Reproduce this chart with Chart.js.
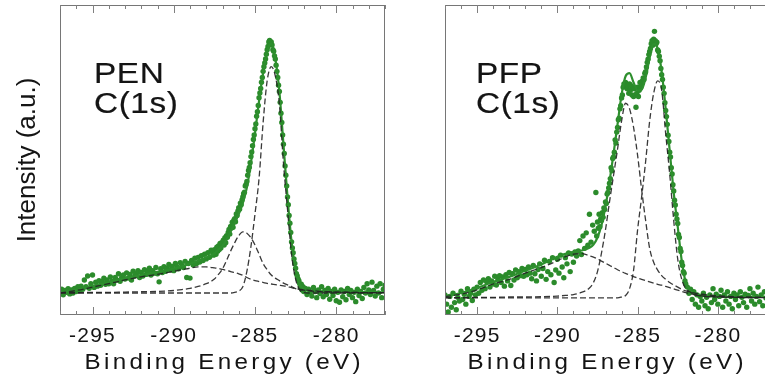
<!DOCTYPE html>
<html><head><meta charset="utf-8">
<script src="https://cdn.jsdelivr.net/npm/chart.js@4.4.1/dist/chart.umd.min.js"></script>
<style>
html,body{margin:0;padding:0;background:#fff;overflow:hidden;width:765px;height:389px;}
#wrap{position:relative;width:765px;height:389px;overflow:hidden;background:#fff;}
canvas{position:absolute;top:0;}
#c1{left:0;}
#c2{left:385px;}
</style></head><body>
<div id="wrap"><canvas id="c1" width="400" height="389"></canvas><canvas id="c2" width="390" height="389"></canvas></div>
<script>
// ---------- data ----------
const energy = [
-297,-296.9,-296.8,-296.7,-296.6,-296.5,-296.4,-296.3,-296.2,-296.1,
-296,-295.9,-295.8,-295.7,-295.6,-295.5,-295.4,-295.3,-295.2,-295.1,
-295,-294.9,-294.8,-294.7,-294.6,-294.5,-294.4,-294.3,-294.2,-294.1,
-294,-293.9,-293.8,-293.7,-293.6,-293.5,-293.4,-293.3,-293.2,-293.1,
-293,-292.9,-292.8,-292.7,-292.6,-292.5,-292.4,-292.3,-292.2,-292.1,
-292,-291.9,-291.8,-291.7,-291.6,-291.5,-291.4,-291.3,-291.2,-291.1,
-291,-290.9,-290.8,-290.7,-290.6,-290.5,-290.4,-290.3,-290.2,-290.1,
-290,-289.9,-289.8,-289.7,-289.6,-289.5,-289.4,-289.3,-289.2,-289.1,
-289,-288.9,-288.8,-288.7,-288.6,-288.5,-288.4,-288.3,-288.2,-288.1,
-288,-287.9,-287.8,-287.7,
-287.6,-287.55,-287.5,-287.45,-287.4,-287.35,-287.3,-287.25,-287.2,-287.15,
-287.1,-287.05,-287,-286.95,-286.9,-286.85,-286.8,-286.75,-286.7,-286.65,
-286.6,-286.55,-286.5,-286.45,-286.4,-286.35,-286.3,-286.25,-286.2,-286.15,
-286.1,-286.05,-286,-285.95,-285.9,-285.85,-285.8,-285.75,-285.7,-285.65,
-285.6,-285.55,-285.5,-285.45,-285.4,-285.35,-285.3,-285.25,-285.2,-285.15,
-285.1,-285.05,-285,-284.95,-284.9,-284.85,-284.8,-284.75,-284.7,-284.65,
-284.6,-284.55,-284.5,-284.45,-284.4,-284.35,-284.3,-284.25,-284.2,-284.15,
-284.1,-284.05,-284,-283.95,-283.9,-283.85,-283.8,-283.75,-283.7,-283.65,
-283.6,-283.55,-283.5,-283.45,-283.4,-283.35,-283.3,-283.25,-283.2,-283.15,
-283.1,-283.05,-283,-282.95,-282.9,-282.85,-282.8,-282.75,-282.7,-282.65,
-282.6,-282.55,-282.5,-282.45,-282.4,-282.35,-282.3,-282.25,-282.2,-282.15,
-282.1,-282.05,-282,
-281.9,-281.8,-281.7,-281.6,-281.5,-281.4,-281.3,-281.2,-281.1,-281,
-280.9,-280.8,-280.7,-280.6,-280.5,-280.4,-280.3,-280.2,-280.1,-280,
-279.9,-279.8,-279.7,-279.6,-279.5,-279.4,-279.3,-279.2,-279.1,-279,
-278.9,-278.8,-278.7,-278.6,-278.5,-278.4,-278.3,-278.2,-278.1,-278,
-277.9,-277.8,-277.7,-277.6,-277.5,-277.4,-277.3,-277.2,-277.1,-277
];

const penCounts = [
0.05,0.12,-0.06,0.08,0.02,0.14,-0.03,0.1,0.0,0.15,
0.05,0.2,0.08,0.22,0.12,0.42,0.2,0.55,0.15,0.3,
0.58,0.18,0.35,0.22,0.4,0.25,0.38,0.48,0.28,0.42,
0.3,0.52,0.38,0.3,0.5,0.42,0.62,0.38,0.5,0.58,
0.45,0.65,0.48,0.6,0.42,0.7,0.55,0.62,0.72,0.5,
0.66,0.55,0.75,0.6,0.68,0.8,0.58,0.72,0.64,0.82,
0.62,0.36,0.78,0.66,0.85,0.7,0.8,0.92,0.74,0.86,
0.72,0.95,0.85,0.78,0.98,0.9,0.82,1.02,0.5,0.95,
0.48,1.05,0.9,1.12,0.95,1.15,1.0,1.2,1.05,1.25,
1.1,1.3,1.15,1.38,
1.3,1.22,1.4,1.32,1.25,1.48,1.35,1.52,1.4,1.6,
1.45,1.62,1.58,1.7,1.55,1.78,1.62,1.85,1.8,1.95,
2.05,1.9,2.15,2.1,2.28,2.12,2.35,2.4,2.3,2.55,
2.5,2.65,2.75,2.7,2.9,2.85,3.0,3.1,3.2,3.25,
3.45,3.5,3.6,3.8,3.95,4.05,4.2,4.4,4.55,4.75,
4.95,5.1,5.3,5.45,5.7,5.85,6.05,6.3,6.45,6.6,
6.8,6.95,7.15,7.3,7.42,7.55,7.7,7.85,7.95,8.1,
8.15,8.05,8.1,8.0,7.85,7.8,7.65,7.55,7.35,7.15,
6.95,6.7,6.5,6.15,5.8,5.5,5.1,4.8,4.5,4.1,
3.8,3.45,3.1,2.85,2.5,2.25,1.95,1.65,1.45,1.3,
1.1,0.95,0.8,0.62,0.55,0.45,0.4,0.3,0.18,0.28,
0.1,0.2,0.05,
0.15,-0.05,0.12,0.02,-0.1,0.18,0.05,-0.15,0.1,-0.02,
0.2,-0.12,0.08,-0.05,0.15,-0.2,0.05,-0.08,0.12,-0.25,
0.02,-0.3,0.1,-0.12,0.05,-0.22,0.15,-0.05,0.08,-0.15,
0.02,-0.28,0.12,-0.08,0.05,-0.18,0.18,0.0,0.3,0.1,
-0.05,0.35,0.08,-0.1,0.22,0.0,0.3,-0.15,0.12,0.25
];

const pfpCounts = [
0.1,-0.2,-0.45,0.05,-0.3,0.15,-0.15,-0.38,0.02,-0.1,
0.22,-0.05,0.12,-0.2,0.3,0.05,0.15,-0.08,0.28,0.1,
0.35,0.15,0.5,0.25,0.58,0.3,0.52,0.62,0.35,0.55,
0.45,0.7,0.42,0.6,0.72,0.5,0.68,0.38,0.75,0.55,
0.82,0.4,0.78,0.58,0.9,0.65,0.85,0.72,0.95,0.7,
0.92,0.75,1.0,0.8,0.62,1.05,0.78,0.55,0.92,1.1,
0.7,0.95,1.22,0.6,0.85,1.18,0.75,1.3,0.5,0.9,
1.25,0.8,1.38,1.0,0.65,1.3,1.1,1.45,0.85,1.42,
1.15,1.48,1.35,1.52,1.85,1.4,2.0,1.6,2.1,1.7,
2.7,1.8,2.35,2.15,
3.4,2.0,2.45,2.25,2.7,2.3,2.55,2.5,2.75,2.6,
2.9,2.85,3.1,3.05,3.35,3.4,3.55,3.7,3.85,4.2,
4.1,4.5,4.55,4.7,5.1,5.0,5.35,5.5,5.75,5.8,
6.1,6.2,6.45,6.55,6.8,6.9,6.85,6.95,6.9,6.75,
6.85,6.6,6.9,6.7,6.85,6.55,6.8,6.5,6.75,6.55,
6.15,6.6,6.8,6.5,6.7,6.95,6.8,6.9,7.0,7.1,
7.05,7.25,7.3,7.45,7.6,7.7,7.85,7.95,8.05,8.2,
8.3,8.15,8.35,8.6,8.3,8.2,8.25,8.0,7.95,7.8,
7.65,7.4,7.2,7.05,6.8,6.6,6.3,6.05,5.85,5.6,
5.25,5.05,4.7,4.55,4.2,4.0,3.65,3.45,3.15,3.0,
2.7,2.55,2.4,2.05,1.95,1.6,1.5,1.15,1.05,0.85,
0.8,0.55,0.45,
0.35,0.15,0.28,-0.05,0.2,-0.2,0.1,-0.3,0.05,-0.1,
0.15,-0.25,0.02,-0.35,0.1,-0.15,0.3,-0.05,0.12,-0.2,
0.05,0.25,-0.3,0.1,-0.1,0.2,-0.2,0.05,-0.35,0.15,
-0.05,0.1,-0.25,0.2,0.02,-0.15,0.12,-0.3,0.08,0.3,
-0.1,0.15,-0.2,0.05,0.35,-0.12,0.1,-0.25,0.2,0.0
];

const curveEnergy = [-297,-296,-295,-294,-293,-292,-291,-290,-289.5,-289,-288.5,-288,
-287.75,-287.5,-287.25,-287,-286.75,-286.5,-286.25,-286,-285.75,-285.5,-285.25,-285,
-284.75,-284.5,-284.25,-284,-283.75,-283.5,-283.25,-283,-282.75,-282.5,-282.25,-282,
-281.75,-281.5,-281,-280,-279,-278,-277];

const penFit = [0.0,0.1,0.22,0.34,0.47,0.58,0.68,0.79, 0.86,0.94,1.04,1.14,
1.2,1.28,1.4,1.52,1.72,1.98,2.25,2.55, 2.9,3.4,4.2,5.15,6.2,7.1,7.8,8.05,
7.55,6.5,4.8,3.1,1.65,0.75,0.28,0.12, 0.09,0.08,0.06,0.04,0.03,0.02,0.02];
const penMain = [0,0,0,0,0,0,0,0, 0,0,0,0,
0,0,0,0,0,0,0.02,0.06, 0.2,0.7,1.5,2.55,3.7,5.5,6.85,7.3,
7.0,6.1,4.2,2.7,1.25,0.45,0.1,0.02, 0,0,0,0,0,0,0];
const penMid = [0.01,0.01,0.02,0.02,0.03,0.04,0.05,0.08, 0.11,0.15,0.21,0.3,
0.36,0.45,0.6,0.78,1.05,1.35,1.62,1.85, 1.97,1.93,1.78,1.55,1.25,0.95,0.75,0.58,
0.48,0.4,0.32,0.26,0.21,0.14,0.11,0.09, 0.08,0.06,0.04,0.03,0.02,0.01,0.01];
const penBroad = [0.0,0.08,0.19,0.3,0.42,0.52,0.6,0.7, 0.75,0.8,0.84,0.84,
0.83,0.81,0.79,0.76,0.73,0.69,0.66,0.62, 0.57,0.5,0.44,0.4,0.37,0.34,0.31,0.29,
0.27,0.25,0.23,0.21,0.17,0.14,0.12,0.1, 0.09,0.08,0.05,0.03,0.02,0.01,0.01];

const pfpFit = [0.05,0.16,0.32,0.52,0.68,0.88,1.08,1.33, 1.42,1.48,1.53,1.62,
1.72,1.95,2.35,2.95,3.75,4.65,5.6,6.55, 7.15,7.25,6.95,6.7,6.72,7.1,7.75,8.2,
8.05,7.3,6.1,4.75,3.4,2.3,1.2,0.5, 0.25,0.15,0.08,0.05,0.04,0.03,0.03];
const pfpLow = [0.01,0.01,0.02,0.02,0.03,0.03,0.04,0.06, 0.08,0.11,0.18,0.32,
0.5,0.85,1.45,2.2,3.1,3.95,4.8,5.7, 6.28,6.1,5.5,4.6,3.5,2.5,1.6,1.15,
0.9,0.72,0.6,0.5,0.42,0.35,0.28,0.23, 0.2,0.16,0.12,0.07,0.04,0.03,0.02];
const pfpHigh = [0,0,0,0,0,0,0,0, 0,0,0,0,
0,0,0,0,0,0,0,0.03, 0.08,0.3,0.9,2.2,3.25,4.4,5.7,6.6,
7.0,6.7,5.3,4.0,2.5,1.25,0.6,0.3, 0.2,0.12,0.06,0.03,0.02,0.01,0.01];
const pfpBroad = [0.04,0.12,0.26,0.45,0.6,0.8,0.98,1.2, 1.33,1.41,1.43,1.36,
1.32,1.26,1.19,1.12,1.05,0.98,0.91,0.85, 0.79,0.74,0.69,0.64,0.6,0.56,0.52,0.48,
0.44,0.41,0.37,0.33,0.29,0.25,0.21,0.17, 0.14,0.11,0.07,0.04,0.02,0.01,0.01];

const xMajorTicks = [-295, -290, -285, -280];
const panelNames = ['PEN', 'PFP'];
const coreLevel = 'C(1s)';
const xTitle = 'Binding Energy (eV)';
const yTitle = 'Intensity (a.u.)';

// ---------- styling ----------
const FONT = "'Liberation Sans', Arial, Helvetica, sans-serif";
const DOT = '#2b8b2b';
const FIT = '#2e8f2e';
const DASH = 'rgba(35,35,35,0.9)';
const INK = '#141414';

const pts = (xs, ys) => xs.map((x, i) => ({x: x, y: ys[i]}));

function wideText(ctx, text, x, y, size, sx, spacing, align, weight) {
  ctx.save();
  ctx.font = size + 'px ' + FONT;
  ctx.letterSpacing = spacing + 'px';
  ctx.textAlign = 'left';
  ctx.textBaseline = 'alphabetic';
  const w = (ctx.measureText(text).width - spacing) * sx;
  let x0 = x;
  if (align === 'center') x0 = x - w / 2;
  ctx.translate(x0, y);
  ctx.scale(sx, 1);
  ctx.fillStyle = INK;
  ctx.fillText(text, 0, 0);
  if (weight > 0) { ctx.strokeStyle = INK; ctx.lineWidth = weight; ctx.strokeText(text, 0, 0); }
  ctx.restore();
}

const panelPlugin = {
  id: 'panelText',
  beforeDraw(chart) { chart.ctx.letterSpacing = '1.2px'; },
  afterDraw(chart, args, o) {
    const ctx = chart.ctx, a = chart.chartArea, xs = chart.scales.x, ys = chart.scales.y;
    ctx.save();
    ctx.letterSpacing = '0px';
    // frame
    ctx.strokeStyle = '#767676'; ctx.lineWidth = 1;
    ctx.strokeRect(Math.round(a.left) + 0.5, Math.round(a.top) + 0.5,
      Math.round(a.right - a.left) - 1, Math.round(a.bottom - a.top) - 1);
    // inward ticks
    ctx.strokeStyle = '#808080';
    ctx.beginPath();
    xs.ticks.forEach(t => {
      const v = Math.round(t.value);
      if (Math.abs(t.value - v) > 1e-6) return;
      const px = Math.round(xs.getPixelForValue(v)) + 0.5;
      const len = xMajorTicks.includes(v) ? 8 : 4;
      ctx.moveTo(px, a.bottom); ctx.lineTo(px, a.bottom - len);
      ctx.moveTo(px, a.top); ctx.lineTo(px, a.top + len);
    });
    ys.ticks.forEach(t => {
      const v = Math.round(t.value);
      if (Math.abs(t.value - v) > 1e-6) return;
      const py = Math.round(ys.getPixelForValue(v)) + 0.5;
      ctx.moveTo(a.left, py); ctx.lineTo(a.left + 7, py);
      ctx.moveTo(a.right, py); ctx.lineTo(a.right - 7, py);
    });
    ctx.stroke();
    ctx.restore();
    // texts
    wideText(ctx, xTitle, (a.left + a.right) / 2, a.bottom + 54, 22, 1.1, 3, 'center', 0);
    wideText(ctx, o.name, a.left + o.dx, a.top + 78, 29, 1.15, 0.5, 'left', 0.2);
    wideText(ctx, coreLevel, a.left + o.dx, a.top + 108, 29, 1.15, 0.5, 'left', 0.2);
    if (o.showY) {
      ctx.save();
      ctx.letterSpacing = '0px';
      ctx.font = '26px ' + FONT;
      ctx.textAlign = 'center';
      ctx.textBaseline = 'alphabetic';
      ctx.fillStyle = INK;
      ctx.translate(a.left - 25, (a.top + a.bottom) / 2);
      ctx.rotate(-Math.PI / 2);
      ctx.fillText(yTitle, 0, 0);
      ctx.restore();
    }
    ctx.letterSpacing = '0px';
  }
};

function makeChart(id, counts, fit, comps, yMin, yMax, padRight, name, dx, showY) {
  const curve = (ys) => ({
    data: pts(curveEnergy, ys), showLine: true, pointRadius: 0, borderColor: DASH,
    borderWidth: 1.3, borderDash: [6, 3], cubicInterpolationMode: 'monotone', order: 0, clip: 0
  });
  const datasets = [
    ...comps.map(curve),
    { data: pts(curveEnergy, fit), showLine: true, pointRadius: 0, borderColor: FIT,
      borderWidth: 2.2, cubicInterpolationMode: 'monotone', order: 1, clip: 0 },
    { data: pts(energy, counts), showLine: false, pointRadius: 2.7, pointBorderWidth: 0,
      pointBackgroundColor: DOT, backgroundColor: DOT, order: 2, clip: 0 }
  ];
  return new Chart(document.getElementById(id), {
    type: 'scatter',
    data: { datasets },
    plugins: [panelPlugin],
    options: {
      responsive: false, animation: false, events: [],
      layout: { padding: { top: 5, right: padRight, left: 0, bottom: 0 } },
      plugins: { legend: { display: false }, tooltip: { enabled: false },
        panelText: { name: name, dx: dx, showY: showY } },
      scales: {
        x: { type: 'linear', min: -297, max: -277,
          afterFit(s) { s.height = 74; },
          grid: { display: false, drawTicks: false }, border: { display: false },
          ticks: { stepSize: 1, autoSkip: false, maxRotation: 0, minRotation: 0, padding: 9,
            color: INK, font: { family: FONT, size: 21 },
            callback: (v) => xMajorTicks.includes(Math.round(v)) ? String(Math.round(v)) : '' } },
        y: { type: 'linear', min: yMin, max: yMax,
          afterFit(s) { s.width = 60; },
          grid: { display: false, drawTicks: false }, border: { display: false },
          ticks: { display: false, stepSize: 1 } }
      }
    }
  });
}

makeChart('c1', penCounts, penFit, [penMain, penMid, penBroad], -0.71, 9.29, 15, panelNames[0], 34, true);
makeChart('c2', pfpCounts, pfpFit, [pfpHigh, pfpLow, pfpBroad], -0.55, 9.45, 6, panelNames[1], 31, false);
</script>
</body></html>
